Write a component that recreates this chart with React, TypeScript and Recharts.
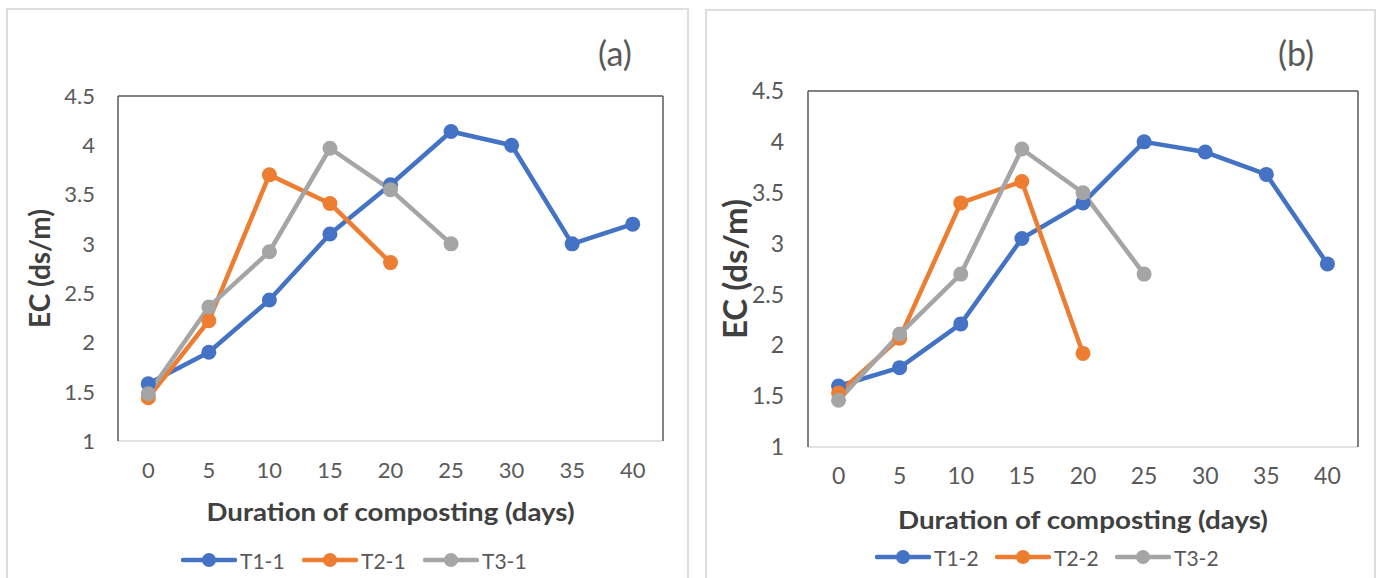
import React from 'react';
import { LineChart, Line, XAxis, YAxis, Legend, Label } from 'recharts';

const FONT = 'Lato, "Noto Sans", sans-serif';
const BLUE = '#4472C4';
const ORANGE = '#ED7D31';
const GRAY = '#A5A5A5';

// composting days (category axis)
const days = ['0', '5', '10', '15', '20', '25', '30', '35', '40'];
const yTicks = [1, 1.5, 2, 2.5, 3, 3.5, 4, 4.5];

// panel (a)
const namesA = ['T1-1', 'T2-1', 'T3-1'];
const t1a = [1.58, 1.9, 2.43, 3.1, 3.6, 4.14, 4.0, 3.0, 3.2];
const t2a = [1.44, 2.22, 3.7, 3.41, 2.81];
const t3a = [1.48, 2.36, 2.92, 3.97, 3.55, 3.0];

// panel (b)
const namesB = ['T1-2', 'T2-2', 'T3-2'];
const t1b = [1.6, 1.78, 2.21, 3.05, 3.4, 4.0, 3.9, 3.68, 2.8];
const t2b = [1.53, 2.07, 3.4, 3.61, 1.92];
const t3b = [1.46, 2.11, 2.7, 3.93, 3.5, 2.7];

const colors = [BLUE, ORANGE, GRAY];

const buildRows = (a: number[], b: number[], c: number[]) =>
  days.map((d, i) => ({
    day: d,
    s1: a[i] ?? null,
    s2: b[i] ?? null,
    s3: c[i] ?? null,
  }));

type PanelProps = {
  left: number;
  width: number;
  plotLeft: number;
  plotRight: number;
  plotTop: number;
  plotBottom: number;
  legendBottom: number;
  legendLeft: number;
  itemWidth: number;
  names: string[];
  rows: any[];
  tickSize: number;
  yTitleSize: number;
  yTitleX: number;
  xTitleY: number;
  xTitleLen: number;
};

const LegendRow = ({ names, itemWidth }: { names: string[]; itemWidth: number }) => (
  <div
    style={{
      display: 'flex',
      height: 30,
      alignItems: 'center',
      fontFamily: FONT,
      fontSize: 21,
      color: '#595959',
    }}
  >
    {names.map((n, i) => (
      <div key={n} style={{ display: 'flex', alignItems: 'center', width: itemWidth }}>
        <svg width={56} height={30}>
          <line x1={2} x2={54} y1={15} y2={15} stroke={colors[i]} strokeWidth={4.5} strokeLinecap="round" />
          <circle cx={28} cy={15} r={7} fill={colors[i]} />
        </svg>
        <span style={{ marginLeft: 3 }}>{n}</span>
      </div>
    ))}
  </div>
);

const Panel = (p: PanelProps) => {
  const plotW = p.plotRight - p.plotLeft;
  const half = plotW / days.length / 2;
  const chartH = 578;
  const legendH = 30;
  const xAxisH = chartH - p.plotBottom - p.legendBottom - legendH;
  const cx = (p.plotLeft + p.plotRight) / 2;
  const cy = (p.plotTop + p.plotBottom) / 2;

  return (
    <div style={{ position: 'absolute', left: p.left, top: 0 }}>
      <LineChart
        width={p.width}
        height={chartH}
        data={p.rows}
        margin={{ top: p.plotTop - 1, right: p.width - p.plotRight - 1, left: 0, bottom: p.legendBottom }}
      >
        <XAxis
          dataKey="day"
          type="category"
          height={xAxisH}
          padding={{ left: half, right: half }}
          axisLine={{ stroke: '#d9d9d9', strokeWidth: 1.5 }}
          tickLine={false}
          tickSize={0}
          tickMargin={21}
          interval={0}
          tick={{ fill: '#595959', fontSize: p.tickSize, fontFamily: FONT }}
        >
          <Label
            content={() => (
              <text
                x={cx}
                y={p.xTitleY}
                textAnchor="middle"
                textLength={p.xTitleLen}
                lengthAdjust="spacingAndGlyphs"
                style={{ fontFamily: FONT, fontWeight: 700, fontSize: 25, fill: '#404040' }}
              >
                Duration of composting (days)
              </text>
            )}
          />
        </XAxis>
        <XAxis
          xAxisId="top"
          dataKey="day"
          orientation="top"
          height={1}
          padding={{ left: half, right: half }}
          tick={false}
          tickLine={false}
          axisLine={{ stroke: '#595959', strokeWidth: 1.5 }}
        />
        <YAxis
          type="number"
          domain={[1, 4.5]}
          ticks={yTicks}
          width={p.plotLeft}
          axisLine={{ stroke: '#595959', strokeWidth: 1.5 }}
          tickLine={false}
          tickSize={0}
          tickMargin={p.tickSize + 1}
          tick={{ fill: '#595959', fontSize: p.tickSize, fontFamily: FONT }}
        >
          <Label
            content={() => (
              <text
                transform={`translate(${p.yTitleX}, ${cy}) rotate(-90)`}
                textAnchor="middle"
                style={{ fontFamily: FONT, fontWeight: 700, fontSize: p.yTitleSize, fill: '#404040' }}
              >
                EC (ds/m)
              </text>
            )}
          />
        </YAxis>
        <YAxis
          yAxisId="right"
          orientation="right"
          type="number"
          domain={[1, 4.5]}
          width={1}
          tick={false}
          tickLine={false}
          axisLine={{ stroke: '#595959', strokeWidth: 1.5 }}
        />
        <Legend
          verticalAlign="bottom"
          wrapperStyle={{ left: p.legendLeft, bottom: p.legendBottom, width: 'auto' }}
          content={() => <LegendRow names={p.names} itemWidth={p.itemWidth} />}
        />
        {/* invisible series so the frame axes (top / right) get drawn */}
        <Line
          xAxisId="top"
          yAxisId="right"
          dataKey="s1"
          stroke="none"
          dot={false}
          activeDot={false}
          legendType="none"
          isAnimationActive={false}
        />
        {['s1', 's2', 's3'].map((k, i) => (
          <Line
            key={k}
            dataKey={k}
            name={p.names[i]}
            stroke={colors[i]}
            strokeWidth={4.5}
            strokeLinejoin="round"
            dot={{ r: 7.5, fill: colors[i], stroke: colors[i], strokeWidth: 0 }}
            activeDot={false}
            isAnimationActive={false}
          />
        ))}
      </LineChart>
    </div>
  );
};

const App = () => {
  return (
    <div
      style={{
        position: 'absolute',
        left: 0,
        top: 0,
        width: 1379,
        height: 578,
        overflow: 'hidden',
        background: '#fff',
      }}
    >
      <div
        style={{
          position: 'absolute',
          left: 6,
          top: 8,
          width: 679,
          height: 580,
          border: '2px solid #dedede',
          borderBottom: 'none',
        }}
      />
      <div
        style={{
          position: 'absolute',
          left: 705,
          top: 9,
          width: 667,
          height: 580,
          border: '2px solid #dedede',
          borderBottom: 'none',
        }}
      />
      <div
        style={{
          position: 'absolute',
          left: 575,
          top: 36,
          width: 80,
          textAlign: 'center',
          fontFamily: FONT,
          fontSize: 34,
          lineHeight: '34px',
          color: '#595959',
        }}
      >
        (a)
      </div>
      <div
        style={{
          position: 'absolute',
          left: 1256,
          top: 36,
          width: 80,
          textAlign: 'center',
          fontFamily: FONT,
          fontSize: 34,
          lineHeight: '34px',
          color: '#595959',
        }}
      >
        (b)
      </div>
      <Panel
        left={0}
        width={690}
        plotLeft={118}
        plotRight={663}
        plotTop={96}
        plotBottom={441}
        legendBottom={3}
        legendLeft={181}
        itemWidth={121}
        names={namesA}
        rows={buildRows(t1a, t2a, t3a)}
        tickSize={22}
        yTitleSize={28}
        yTitleX={50}
        xTitleY={521}
        xTitleLen={368}
      />
      <Panel
        left={700}
        width={679}
        plotLeft={108}
        plotRight={658}
        plotTop={91}
        plotBottom={447}
        legendBottom={6}
        legendLeft={175}
        itemWidth={120}
        names={namesB}
        rows={buildRows(t1b, t2b, t3b)}
        tickSize={23}
        yTitleSize={33}
        yTitleX={47}
        xTitleY={529}
        xTitleLen={370}
      />
    </div>
  );
};

export default App;
